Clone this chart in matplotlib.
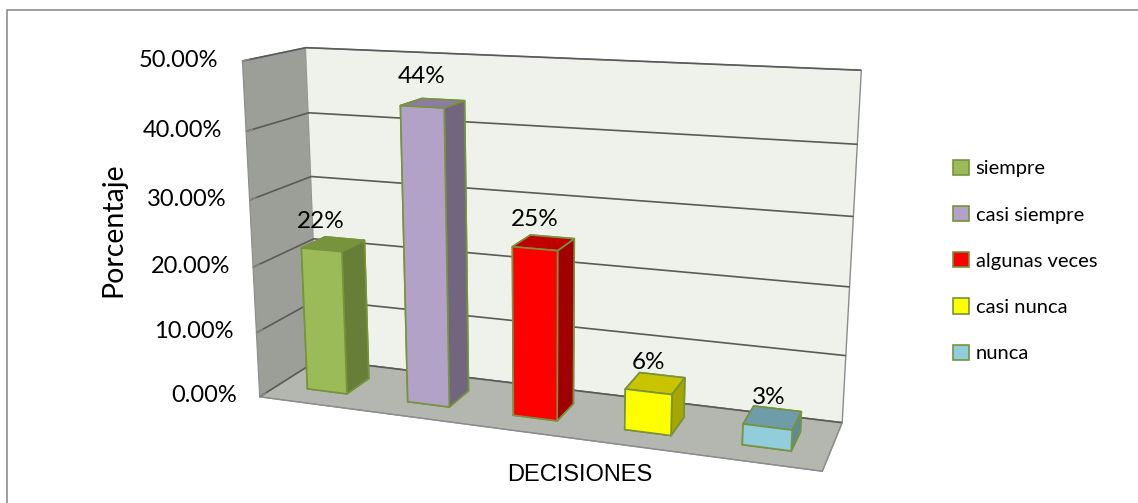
import matplotlib
matplotlib.use("Agg")
import matplotlib.pyplot as plt
from matplotlib.patches import Patch, Rectangle
import numpy as np

categories = ["siempre", "casi siempre", "algunas veces", "casi nunca", "nunca"]
values = [0.22, 0.44, 0.25, 0.06, 0.03]
value_labels = ["22%", "44%", "25%", "6%", "3%"]
z_ticks = [0.0, 0.1, 0.2, 0.3, 0.4, 0.5]
front_colors = ["#9BBB59", "#B3A2C7", "#FF0000", "#FFFF00", "#92CDDC"]
side_colors = ["#667E37", "#72667F", "#A00000", "#A6A600", "#5E8A94"]
top_colors = ["#77933C", "#8C7CA2", "#C00000", "#C8C400", "#6E9CA8"]
edge_color = "#77933C"

plt.rcParams['font.family'] = ['Lato', 'DejaVu Sans']

fig = plt.figure(figsize=(11.38, 5.03), dpi=100)
ax = fig.add_axes([0.10, -0.15, 0.74, 1.30], projection='3d')
ax.set_proj_type('persp', focal_length=0.4)
ax.view_init(elev=14, azim=-70.5)

n = len(values)
xs = np.arange(n) + 0.3
for i in range(n):
    cols = [front_colors[i], top_colors[i], front_colors[i], front_colors[i],
            side_colors[i], side_colors[i]]
    ax.bar3d(xs[i], 0.3, 0, 0.4, 0.4, values[i], color=cols, shade=False,
             edgecolor=edge_color, linewidth=1.2)
    ax.text(xs[i] + 0.2, 0.3, values[i] + 0.027, value_labels[i], ha='center',
            va='bottom', fontsize=17.5, color='#000000', zorder=20)

ax.set_xlim(0, n)
ax.set_ylim(0, 1)
ax.set_zlim(0, 0.5)
ax.set_box_aspect((1, 0.22, 0.6), zoom=1.04)

ax.set_xticks([])
ax.set_yticks([])
ax.set_zticks(z_ticks)
ax.set_zticklabels([f"{t:.2%}" for t in z_ticks], fontsize=17, ha='right', va='center')
ax.zaxis.set_ticks_position('lower')
ax.tick_params(axis='z', pad=2, color='#8C8C8C', width=1.5, length=8)

ax.yaxis.set_pane_color("#EFF2EA")
ax.zaxis.set_pane_color("#B4B6B0")
ax.xaxis.set_pane_color("#9C9E98")
for a in (ax.xaxis, ax.yaxis, ax.zaxis):
    a.pane.set_edgecolor("#8C8C8C")
    a.line.set_color("#8C8C8C")
ax.zaxis._axinfo['grid']['color'] = "#5A5A5A"
ax.zaxis._axinfo['grid']['linewidth'] = 1.2
ax.zaxis._axinfo['tick']['inward_factor'] = 0.0
ax.zaxis._axinfo['tick']['outward_factor'] = 1.2

fig.text(113 / 1138, 1 - 230 / 503, "Porcentaje", rotation=90, fontsize=20.5,
         ha='center', va='center')
fig.text(580 / 1138, 1 - 475 / 503, "DECISIONES", fontsize=17, ha='center', va='center',
         family=['Liberation Sans', 'DejaVu Sans'])

handles = [Patch(facecolor=c, edgecolor=edge_color, linewidth=1.2) for c in front_colors]
fig.legend(handles, categories, loc='center left',
           bbox_to_anchor=(953 / 1138, 1 - 261 / 503),
           frameon=False, fontsize=14.5, handlelength=0.78, handleheight=0.78,
           handletextpad=0.35, labelspacing=1.42, borderpad=0, borderaxespad=0)

fig.add_artist(Rectangle((7 / 1138, -0.1), 1.5, 1.1 - 10 / 503, transform=fig.transFigure,
                         fill=False, edgecolor="#8C8C8C", linewidth=1.2))

fig.savefig("out.png", dpi=100)
